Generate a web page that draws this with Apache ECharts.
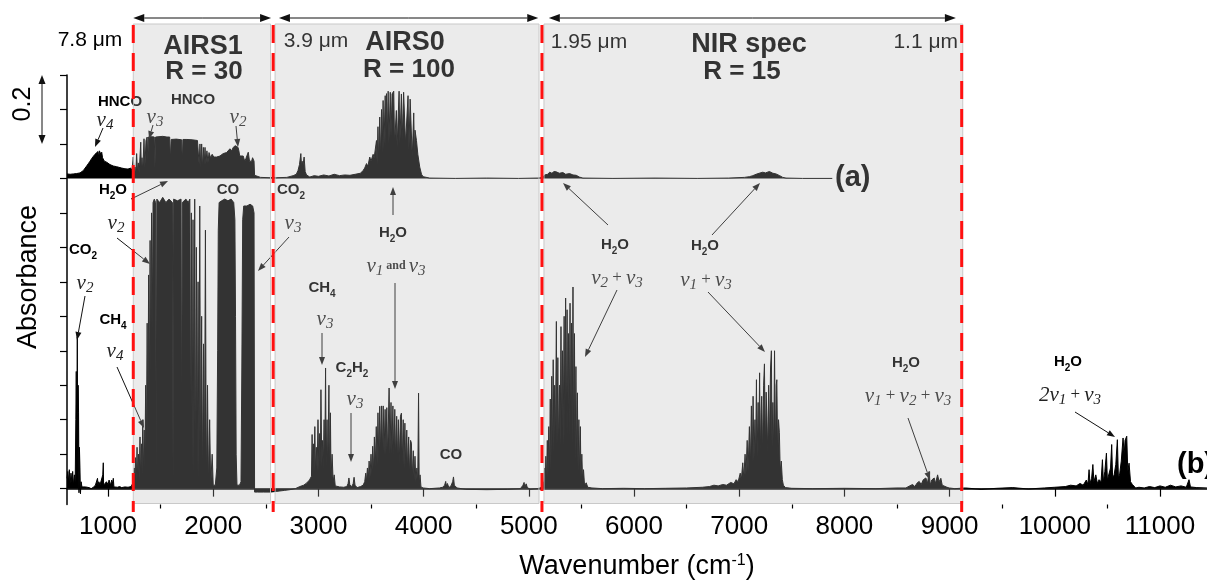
<!DOCTYPE html>
<html><head><meta charset="utf-8">
<script src="https://cdn.jsdelivr.net/npm/echarts@6/dist/echarts.min.js"></script>
<style>html,body{margin:0;padding:0;background:#fff}#c{width:1207px;height:585px}</style>
</head><body><div id="c"></div>
<script>
// ---------- data ----------
const xTicks = [1000,2000,3000,4000,5000,6000,7000,8000,9000,10000,11000];
const xMinorTicks = [1500,2500,3500,4500,5500,6500,7500,8500,9500,10500];
const yTicks = [0,0.1,0.2,0.3,0.4,0.5,0.6,0.7,0.8,0.9,1.0,1.1,1.2];
const offsetA = 0.9;                       // vertical offset of spectrum (a)
const regionLines = [1240, 2570, 5125, 9115]; // red dashed separators (cm-1)
const regionBoxes = [[1240,2545],[2588,5097],[5144,9125]];
const rangeArrows = [[1240,2550],[2625,5090],[5190,9060]];

// spectrum (a): absorbance above its own baseline
const specA = [
[610,0.013],[625,0.016],[640,0.012],[655,0.015],[670,0.013],[685,0.016],[700,0.014],[715,0.015],[734,0.016],[750,0.02],[766,0.023],[782,0.03],[797,0.036],[813,0.043],[829,0.05],[845,0.058],[860,0.062],[876,0.07],[892,0.075],[905,0.078],[912,0.06],[918,0.08],[925,0.081],[932,0.07],[940,0.076],[948,0.06],[955,0.065],[965,0.05],[972,0.055],[987,0.047],[1003,0.042],[1019,0.04],[1035,0.038],[1050,0.036],[1066,0.035],[1082,0.034],[1100,0.033],[1130,0.03],[1161,0.028],[1190,0.027],[1215,0.03],[1228,0.023],
[1240,0.062],[1248,0.015],[1256,0.033],[1264,0.01],[1272,0.072],[1280,0.02],[1288,0.045],[1296,0.015],[1311,0.105],[1317,0.02],[1323,0.06],[1330,0.02],[1342,0.115],[1350,0.03],[1361,0.11],[1372,0.12],[1378,0.05],[1384,0.12],[1420,0.121],[1440,0.12],[1446,0.03],[1452,0.12],[1520,0.122],[1560,0.12],[1586,0.12],[1592,0.052],[1600,0.113],[1650,0.114],[1700,0.112],[1706,0.04],[1712,0.113],[1750,0.113],[1800,0.112],[1850,0.11],[1866,0.04],[1874,0.1],[1882,0.03],[1890,0.1],[1898,0.03],[1906,0.09],[1914,0.04],[1922,0.09],[1930,0.04],[1940,0.08],[1950,0.045],[1960,0.075],[1975,0.06],[1990,0.07],[2005,0.062],[2032,0.062],[2064,0.065],[2095,0.072],[2127,0.075],[2159,0.086],[2175,0.08],[2190,0.09],[2210,0.095],[2222,0.1],[2236,0.09],[2244,0.08],[2252,0.065],[2260,0.062],[2270,0.07],[2285,0.065],[2300,0.05],[2311,0.058],[2320,0.06],[2333,0.076],[2345,0.05],[2355,0.055],[2365,0.05],[2374,0.06],[2388,0.05],[2393,0.009],[2412,0.004],[2450,0.003],[2540,0.002],
[2600,0.002],[2700,0.003],[2760,0.008],[2790,0.012],[2806,0.023],[2820,0.04],[2833,0.072],[2840,0.03],[2845,0.05],[2852,0.035],[2864,0.062],[2874,0.02],[2887,0.01],[2918,0.004],[2960,0.008],[3000,0.006],[3050,0.01],[3100,0.007],[3150,0.012],[3200,0.008],[3250,0.01],[3300,0.009],[3350,0.012],[3400,0.015],[3425,0.023],[3440,0.03],[3457,0.043],[3470,0.035],[3488,0.062],[3500,0.05],[3520,0.07],[3530,0.06],[3552,0.11],[3558,0.04],[3566,0.15],[3572,0.05],[3583,0.178],[3590,0.06],[3600,0.2],[3606,0.07],[3615,0.226],[3622,0.08],[3635,0.24],[3641,0.09],[3647,0.246],[3655,0.12],[3663,0.253],[3670,0.1],[3683,0.25],[3690,0.12],[3700,0.245],[3716,0.253],[3724,0.1],[3741,0.197],[3748,0.09],[3767,0.253],[3774,0.1],[3789,0.245],[3796,0.11],[3810,0.25],[3821,0.25],[3828,0.1],[3852,0.24],[3860,0.08],[3872,0.23],[3884,0.226],[3892,0.06],[3906,0.19],[3914,0.05],[3918,0.14],[3932,0.11],[3945,0.07],[3963,0.033],[3980,0.012],[3995,0.005],[4058,0.001],[4300,0.0],[4600,0.001],[4900,0.0],[5080,0.001],
[5134,0.002],[5150,0.01],[5166,0.014],[5180,0.012],[5198,0.018],[5220,0.015],[5240,0.02],[5261,0.019],[5290,0.015],[5324,0.017],[5350,0.012],[5388,0.014],[5420,0.01],[5451,0.009],[5480,0.004],[5514,0.001],[5800,0.0],[6200,0.001],[6600,0.0],[6900,0.001],[7050,0.003],[7097,0.005],[7130,0.008],[7161,0.012],[7190,0.015],[7224,0.018],[7250,0.016],[7287,0.02],[7320,0.015],[7350,0.013],[7385,0.008],[7414,0.003],[7445,0.001],[7600,0.0],[7885,0.0]
];

// spectrum (b)
const specB = [
[610,0.03],[618,0.05],[625,0.02],[632,0.055],[640,0.015],[648,0.045],[656,0.02],[664,0.05],[672,0.01],[680,0.04],[688,0.02],[694,0.2],[698,0.34],[703,0.1],[708,0.44],[712,0.05],[716,0.3],[720,0.22],[724,-0.012],[728,0.12],[733,0.06],[738,-0.015],[744,0.02],[752,0.005],[760,0.01],[770,0.0],[785,0.005],[800,0.0],[820,0.003],[840,0.0],[860,0.004],[880,0.01],[890,0.005],[900,0.03],[905,0.01],[912,0.02],[925,0.012],[940,0.015],[950,0.04],[955,0.075],[958,0.01],[970,0.015],[985,0.02],[1000,0.012],[1010,0.025],[1019,0.03],[1025,0.01],[1035,0.025],[1045,0.015],[1050,0.03],[1056,0.005],[1070,0.008],[1090,0.004],[1110,0.006],[1130,0.003],[1160,0.005],[1190,0.004],[1220,0.006],[1235,0.005],
[1242,0.02],[1248,0.06],[1254,0.01],[1262,0.09],[1268,0.015],[1276,0.12],[1282,0.02],[1290,0.1],[1296,0.02],[1304,0.15],[1310,0.03],[1318,0.13],[1324,0.04],[1330,0.2],[1336,0.05],[1344,0.17],[1350,0.06],[1358,0.3],[1364,0.08],[1372,0.48],[1378,0.12],[1386,0.62],[1392,0.2],[1400,0.72],[1406,0.3],[1414,0.8],[1420,0.45],[1428,0.83],[1440,0.84],[1452,0.83],[1458,0.02],[1464,0.84],[1490,0.83],[1520,0.845],[1550,0.83],[1580,0.84],[1612,0.83],[1618,0.02],[1624,0.84],[1660,0.835],[1694,0.84],[1700,0.045],[1706,0.83],[1740,0.84],[1762,0.83],[1778,0.84],[1786,0.06],[1792,0.8],[1800,0.05],[1808,0.78],[1816,0.03],[1824,0.84],[1832,0.03],[1840,0.7],[1848,0.02],[1856,0.6],[1864,0.02],[1872,0.82],[1880,0.02],[1890,0.5],[1898,0.015],[1908,0.42],[1916,0.015],[1926,0.75],[1934,0.01],[1946,0.3],[1954,0.01],[1966,0.2],[1976,0.01],[1990,0.1],[2000,0.01],[2020,0.01],[2034,0.06],[2042,0.4],[2048,0.75],[2056,0.83],[2080,0.835],[2110,0.84],[2140,0.835],[2170,0.84],[2195,0.83],[2206,0.78],[2212,0.5],[2218,0.1],[2226,0.01],[2250,0.01],[2264,0.02],[2272,0.35],[2280,0.78],[2290,0.82],[2320,0.82],[2350,0.825],[2375,0.82],[2388,0.8],[2393,-0.01],[2420,-0.01],[2480,-0.01],[2540,-0.01],
[2600,-0.008],[2680,-0.005],[2728,-0.003],[2780,0.0],[2823,0.006],[2860,0.01],[2887,0.016],[2915,0.025],[2934,0.036],[2940,0.157],[2946,0.04],[2952,0.13],[2958,0.045],[2966,0.18],[2972,0.05],[2980,0.12],[2988,0.05],[2996,0.2],[3004,0.05],[3012,0.16],[3018,0.05],[3024,0.287],[3032,0.06],[3040,0.14],[3046,0.05],[3054,0.2],[3060,0.05],[3068,0.35],[3074,0.06],[3082,0.2],[3088,0.05],[3100,0.3],[3106,0.04],[3114,0.22],[3120,0.03],[3130,0.1],[3140,0.02],[3150,0.04],[3160,0.008],[3200,0.005],[3240,0.004],[3270,0.006],[3282,0.015],[3290,0.031],[3298,0.012],[3314,0.005],[3330,0.014],[3339,0.033],[3348,0.01],[3368,0.003],[3400,0.006],[3425,0.01],[3440,0.02],[3450,0.045],[3456,0.02],[3466,0.06],[3474,0.025],[3482,0.08],[3490,0.03],[3500,0.1],[3508,0.04],[3516,0.123],[3524,0.05],[3532,0.15],[3540,0.06],[3550,0.18],[3558,0.07],[3566,0.22],[3574,0.08],[3583,0.239],[3592,0.1],[3600,0.24],[3608,0.1],[3616,0.24],[3624,0.1],[3634,0.23],[3642,0.1],[3650,0.235],[3658,0.09],[3672,0.292],[3680,0.1],[3690,0.25],[3698,0.1],[3708,0.24],[3716,0.09],[3726,0.23],[3734,0.08],[3744,0.21],[3752,0.08],[3760,0.2],[3768,0.07],[3780,0.21],[3789,0.219],[3797,0.07],[3806,0.2],[3814,0.06],[3822,0.19],[3830,0.06],[3840,0.17],[3848,0.05],[3858,0.15],[3866,0.04],[3876,0.14],[3884,0.132],[3892,0.03],[3902,0.11],[3910,0.025],[3918,0.094],[3926,0.02],[3936,0.06],[3944,0.015],[3952,0.277],[3958,0.01],[3966,0.04],[3975,0.005],[3995,0.002],[4058,0.0],[4150,0.002],[4180,0.004],[4200,0.01],[4210,0.021],[4216,0.008],[4226,0.015],[4240,0.003],[4260,0.008],[4276,0.02],[4284,0.034],[4292,0.01],[4305,0.015],[4318,0.002],[4400,-0.002],[4600,-0.003],[4800,-0.002],[4920,0.0],[4945,0.01],[4955,0.018],[4962,0.005],[4975,0.014],[4985,0.004],[5010,-0.002],[5080,0.0],
[5120,0.003],[5135,0.02],[5142,0.005],[5150,0.06],[5156,0.01],[5162,0.094],[5168,0.02],[5176,0.14],[5182,0.03],[5190,0.18],[5196,0.04],[5204,0.26],[5210,0.05],[5218,0.326],[5224,0.08],[5232,0.374],[5238,0.1],[5246,0.3],[5252,0.1],[5262,0.485],[5268,0.12],[5276,0.38],[5282,0.12],[5292,0.3],[5298,0.12],[5306,0.47],[5312,0.14],[5320,0.4],[5326,0.12],[5336,0.5],[5342,0.13],[5350,0.553],[5356,0.14],[5364,0.519],[5370,0.12],[5378,0.45],[5384,0.14],[5392,0.538],[5398,0.12],[5406,0.48],[5412,0.12],[5420,0.585],[5426,0.1],[5434,0.45],[5440,0.08],[5448,0.354],[5454,0.07],[5462,0.278],[5468,0.05],[5476,0.2],[5482,0.04],[5490,0.18],[5496,0.03],[5504,0.1],[5512,0.02],[5520,0.055],[5530,0.01],[5546,0.017],[5560,0.004],[5600,0.002],[5700,0.0],[5900,0.001],[6100,0.0],[6300,0.001],[6500,0.002],[6650,0.004],[6717,0.006],[6760,0.01],[6800,0.008],[6844,0.012],[6880,0.01],[6920,0.018],[6950,0.014],[6971,0.026],[6990,0.02],[7010,0.045],[7020,0.025],[7034,0.075],[7044,0.03],[7056,0.1],[7064,0.04],[7076,0.14],[7084,0.05],[7097,0.18],[7106,0.06],[7116,0.24],[7124,0.07],[7132,0.268],[7140,0.08],[7150,0.2],[7156,0.08],[7164,0.316],[7170,0.09],[7180,0.25],[7186,0.09],[7194,0.336],[7200,0.1],[7208,0.22],[7214,0.268],[7222,0.1],[7232,0.3],[7240,0.362],[7248,0.1],[7256,0.28],[7264,0.2],[7272,0.1],[7280,0.3],[7288,0.12],[7298,0.35],[7306,0.4],[7312,0.12],[7320,0.25],[7328,0.1],[7336,0.4],[7344,0.1],[7352,0.3],[7358,0.316],[7366,0.08],[7374,0.2],[7382,0.162],[7390,0.05],[7400,0.08],[7410,0.026],[7420,0.01],[7440,0.003],[7500,0.001],[7700,0.0],[8000,0.001],[8300,0.0],[8500,0.002],[8585,0.002],[8620,0.008],[8648,0.012],[8670,0.006],[8690,0.016],[8711,0.021],[8730,0.012],[8750,0.026],[8775,0.031],[8790,0.015],[8806,0.05],[8815,0.01],[8830,0.025],[8854,0.031],[8866,0.015],[8886,0.04],[8900,0.02],[8917,0.03],[8930,0.01],[8949,0.012],[8975,0.004],[8996,0.002],[9050,0.0],
[9150,0.002],[9300,-0.002],[9450,0.001],[9600,0.003],[9750,-0.001],[9900,0.002],[10000,0.004],[10100,0.006],[10150,0.01],[10203,0.008],[10240,0.015],[10270,0.01],[10300,0.025],[10315,0.012],[10326,0.055],[10335,0.015],[10350,0.03],[10362,0.07],[10372,0.02],[10390,0.04],[10405,0.015],[10421,0.026],[10440,0.02],[10453,0.084],[10462,0.02],[10476,0.05],[10491,0.103],[10500,0.025],[10516,0.03],[10530,0.06],[10541,0.128],[10550,0.03],[10564,0.04],[10580,0.07],[10595,0.142],[10605,0.03],[10618,0.045],[10632,0.08],[10649,0.147],[10660,0.1],[10668,0.14],[10684,0.152],[10694,0.05],[10706,0.074],[10720,0.02],[10738,0.012],[10769,0.002],[10800,0.004],[10850,0.002],[10900,0.006],[10950,0.003],[11000,0.008],[11050,0.004],[11100,0.01],[11150,0.005],[11200,0.008],[11250,0.004],[11276,0.026],[11290,0.005],[11350,0.003],[11447,0.002]
];

// ---------- chart ----------
const SANS = "'Liberation Sans', Arial, sans-serif";
const SERIF = "'Liberation Serif', 'Times New Roman', serif";
const chart = echarts.init(document.getElementById('c'), null, {renderer:'canvas'});

chart.setOption({
  animation:false,
  backgroundColor:'#fff',
  grid:{left:67, right:0, top:75, bottom:80, containLabel:false},
  xAxis:[{
    type:'value', min:610, max:11447,
    axisLine:{lineStyle:{color:'#000', width:1.5}},
    axisTick:{customValues:xTicks, length:8, lineStyle:{color:'#000', width:1.2}},
    axisLabel:{customValues:xTicks, margin:9, fontSize:26, color:'#000', fontFamily:SANS, formatter:v=>String(v)},
    splitLine:{show:false},
    name:'{n|Wavenumber (cm}{s|-1}{n|)}', nameLocation:'middle', nameGap:48,
    nameTextStyle:{rich:{n:{fontSize:27, fontFamily:SANS, color:'#000'}, s:{fontSize:16, fontFamily:SANS, color:'#000', verticalAlign:'top', padding:[0,0,12,0]}}}
  },{
    type:'value', min:610, max:11447, position:'bottom',
    axisLine:{show:false},
    axisTick:{customValues:xMinorTicks, length:4, lineStyle:{color:'#000', width:1.2}},
    axisLabel:{show:false}, splitLine:{show:false}
  }],
  yAxis:{
    type:'value', min:-0.046, max:1.2,
    axisLine:{show:true, lineStyle:{color:'#000', width:1.5}},
    axisTick:{show:true, customValues:yTicks, length:7, lineStyle:{color:'#000', width:1.2}},
    axisLabel:{show:false}, splitLine:{show:false}
  },
  series:[
    {type:'line', name:'(b)', data:specB, symbol:'none', silent:true,
     lineStyle:{color:'#000', width:1}, areaStyle:{color:'#000', opacity:1, origin:0}},
    {type:'line', name:'(a)', data:specA.map(p=>[p[0], p[1]+offsetA]), symbol:'none', silent:true,
     lineStyle:{color:'#000', width:1}, areaStyle:{color:'#000', opacity:1, origin:offsetA}}
  ]
});

// ---------- annotations ----------
const px = v => chart.convertToPixel({xAxisIndex:0}, v);
const py = v => chart.convertToPixel({yAxisIndex:0}, v);
const G = [];
const INK = '#000';

function arrow(x1,y1,x2,y2,L,W,z){
  L=L||8; W=W||3; z=z||10;
  const dx=x2-x1, dy=y2-y1, d=Math.hypot(dx,dy), ux=dx/d, uy=dy/d;
  const bx=x2-ux*L, by=y2-uy*L;
  G.push({type:'line', z, shape:{x1,y1,x2:bx,y2:by}, style:{stroke:'#111', lineWidth:1}});
  G.push({type:'polygon', z, shape:{points:[[x2,y2],[bx-uy*W,by+ux*W],[bx+uy*W,by-ux*W]]}, style:{fill:'#111'}});
}
const RICH = {
  b:{fontFamily:SANS, fontWeight:'bold', fontSize:15, fill:INK, lineHeight:22},
  bs:{fontFamily:SANS, fontWeight:'bold', fontSize:10, fill:INK, lineHeight:22, verticalAlign:'bottom'},
  v:{fontFamily:SERIF, fontStyle:'italic', fontSize:21, fill:'#222', lineHeight:26},
  vs:{fontFamily:SERIF, fontStyle:'italic', fontSize:15, fill:'#222', lineHeight:26, verticalAlign:'bottom'},
  p:{fontFamily:SERIF, fontSize:17, fill:'#222', lineHeight:26},
  a:{fontFamily:SERIF, fontWeight:'bold', fontSize:12, fill:'#222', lineHeight:26}
};
function rtext(x,y,text,extra){
  G.push({type:'text', x, y, z:10, style:Object.assign({text, rich:RICH, align:'center', verticalAlign:'middle'}, extra||{})});
}
function chem(x,y,s){ // "H_2O" style
  const t = s.replace(/_(\d)/g,'{bs|$1}').replace(/([A-Z]+)/g,'{b|$1}');
  rtext(x,y,t);
}
function nu(x,y,t){ rtext(x,y,t); }
function plain(x,y,text,size,weight,align,rot){
  G.push({type:'text', x, y, z:10, rotation:rot||0, style:{text, fill:INK, fontFamily:SANS, fontSize:size, fontWeight:weight||'normal', align:align||'center', verticalAlign:'middle'}});
}

// gray region overlays + red separators + range arrows
const yBot = py(-0.046) - 1, yTop = 24;
regionBoxes.forEach(b=>{
  const x0=px(b[0]), x1=px(b[1]);
  G.push({type:'rect', z:50, shape:{x:x0, y:yTop, width:x1-x0, height:yBot-yTop}, style:{fill:'rgba(183,183,183,0.28)', stroke:'#c9c9c9', lineWidth:1}});
});
regionLines.forEach(w=>{
  const x=px(w);
  G.push({type:'line', z:60, shape:{x1:x, y1:25, x2:x, y2:512}, style:{stroke:'#ff1010', lineWidth:3, lineDash:[18,10]}});
});
rangeArrows.forEach(r=>{
  const a=px(r[0]), b=px(r[1]), m=(a+b)/2;
  arrow(m,18,a,18,11,4,60); arrow(m,18,b,18,11,4,60);
});

// region titles
plain(90,40,'7.8 μm',21);
plain(203,47,'AIRS1',27,'bold');
plain(204,72,'R = 30',26,'bold');
plain(316,41,'3.9 μm',21);
plain(405,43,'AIRS0',27,'bold');
plain(409,70,'R = 100',26,'bold');
plain(589,42,'1.95 μm',21);
plain(749,45,'NIR spec',27,'bold');
plain(742,72,'R = 15',26,'bold');
plain(958,42,'1.1 μm',21,'normal','right');

// axis-side texts
plain(23,104,'0.2',25,'normal','center',Math.PI/2);
arrow(42,110,42,75,9,3.5); arrow(42,110,42,144,9,3.5);
plain(29,277,'Absorbance',27,'normal','center',Math.PI/2);
plain(835,178,'(a)',29,'bold','left');
plain(1177,465,'(b)',29,'bold','left');

// molecule / band labels
chem(120,102,'HNCO'); nu(105,120,'{v|v}{vs|4}'); arrow(103,128,95,147);
chem(193,100,'HNCO'); nu(155,117,'{v|v}{vs|3}'); arrow(153,125,149,139);
nu(238,117,'{v|v}{vs|2}'); arrow(236,126,238,147);
chem(113,190,'H_2O'); arrow(131,199,168,181);
chem(228,190,'CO');
chem(291,190,'CO_2');
nu(116,223,'{v|v}{vs|2}'); arrow(117,238,150,264);
nu(293,223,'{v|v}{vs|3}'); arrow(289,237,258,271);
chem(83,250,'CO_2'); nu(85,283,'{v|v}{vs|2}'); arrow(85,296,77,340);
chem(113,320,'CH_4'); nu(115,351,'{v|v}{vs|4}'); arrow(117,367,144,428);
chem(393,233,'H_2O'); nu(396,266,'{v|v}{vs|1}{a| and }{v|v}{vs|3}');
arrow(393,215,393,187); arrow(395,283,395,389);
chem(322,288,'CH_4'); nu(325,319,'{v|v}{vs|3}'); arrow(322,333,322,365);
chem(352,368,'C_2H_2'); nu(355,399,'{v|v}{vs|3}'); arrow(351,413,351,462);
chem(451,455,'CO');
chem(615,245,'H_2O'); nu(617,278,'{v|v}{vs|2}{p| + }{v|v}{vs|3}');
arrow(608,225,563,183); arrow(617,290,585,357);
chem(705,246,'H_2O'); nu(706,280,'{v|v}{vs|1}{p| + }{v|v}{vs|3}');
arrow(712,235,760,183); arrow(708,292,765,352);
chem(906,363,'H_2O'); nu(908,396,'{v|v}{vs|1}{p| + }{v|v}{vs|2}{p| + }{v|v}{vs|3}');
arrow(908,418,930,480);
chem(1068,362,'H_2O'); nu(1070,395,'{v|2v}{vs|1}{p| + }{v|v}{vs|3}');
arrow(1075,412,1115,437);

chart.setOption({graphic:{elements:G}});
</script></body></html>
